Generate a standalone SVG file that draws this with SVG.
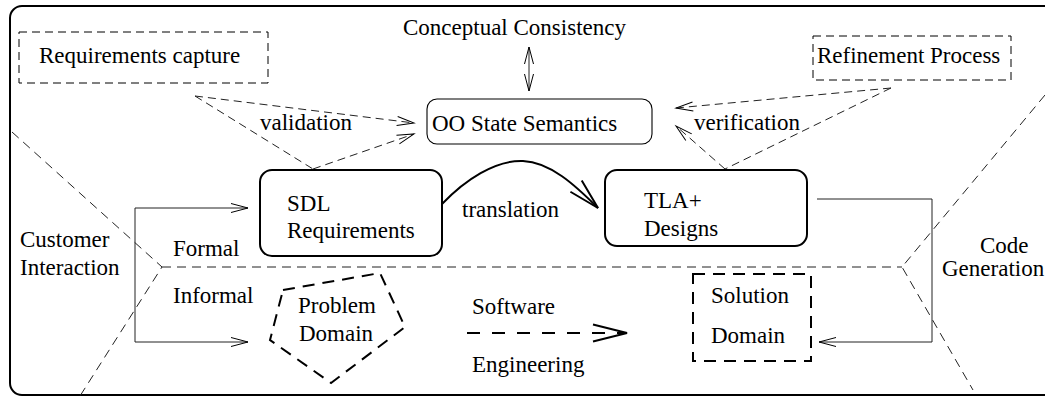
<svg xmlns="http://www.w3.org/2000/svg" width="1045" height="396" viewBox="0 0 1045 396">
  <style>
    text { font-family: "Liberation Serif", "Times New Roman", serif; font-size: 23px; fill: #000; }
    .frame { fill: none; stroke: #000; stroke-width: 2; }
    .box { fill: none; stroke: #000; stroke-width: 2; }
    .thinbox { fill: none; stroke: #000; stroke-width: 1.1; }
    .dashbox { fill: none; stroke: #000; stroke-width: 1; stroke-dasharray: 8 5; }
    .thickdash { fill: none; stroke: #000; stroke-width: 2; stroke-dasharray: 12 8; }
    .thin { fill: none; stroke: #222; stroke-width: 1; }
    .dashed { fill: none; stroke: #222; stroke-width: 1; stroke-dasharray: 8 5; }
    .bound { fill: none; stroke: #222; stroke-width: 1; stroke-dasharray: 9 6; }
    .solid2 { fill: none; stroke: #000; stroke-width: 2; }
    .swdash { fill: none; stroke: #000; stroke-width: 2; stroke-dasharray: 13 12; }
  </style>
  <defs>
    <marker id="open-sm" markerUnits="userSpaceOnUse" markerWidth="20" markerHeight="12" refX="17" refY="4.5" orient="auto-start-reverse" overflow="visible">
      <path d="M0,0 L17,4.5 L0,9" fill="none" stroke="#000" stroke-width="1" stroke-dasharray="none"/>
    </marker>
    <marker id="open-lg" markerUnits="userSpaceOnUse" markerWidth="34" markerHeight="18" refX="31" refY="8" orient="auto" overflow="visible">
      <path d="M0,0 L31,8 L0,16" fill="none" stroke="#000" stroke-width="2" stroke-dasharray="none"/>
    </marker>
    <marker id="open-sw" markerUnits="userSpaceOnUse" markerWidth="36" markerHeight="19" refX="34" refY="8.5" orient="auto" overflow="visible">
      <path d="M0,0 L34,8.5 L0,17" fill="none" stroke="#000" stroke-width="2" stroke-dasharray="none"/>
    </marker>
  </defs>

  <!-- outer frame, running off the right and bottom edges -->
  <rect class="frame" x="10" y="6" width="1060" height="389" rx="12"/>

  <!-- formal / informal and interaction boundaries -->
  <g id="boundaries">
    <polyline class="bound" points="12,132 162,267 80,396"/>
    <line class="bound" x1="162" y1="267" x2="902" y2="267"/>
    <polyline class="bound" points="1045,95 902,267 973,390"/>
  </g>

  <g id="connectors">
    <!-- validation -->
    <line class="dashed" x1="195" y1="96" x2="414" y2="123" marker-end="url(#open-sm)"/>
    <line class="dashed" x1="195" y1="96" x2="313" y2="169"/>
    <line class="dashed" x1="313" y1="169" x2="414" y2="134" marker-end="url(#open-sm)"/>
    <!-- verification -->
    <line class="dashed" x1="891" y1="88" x2="676" y2="108" marker-end="url(#open-sm)"/>
    <line class="dashed" x1="891" y1="88" x2="725" y2="169"/>
    <line class="dashed" x1="725" y1="169" x2="676" y2="126" marker-end="url(#open-sm)"/>
    <!-- conceptual consistency -->
    <line class="thin" x1="529" y1="47" x2="529" y2="91" marker-start="url(#open-sm)" marker-end="url(#open-sm)"/>
    <!-- translation -->
    <path class="solid2" d="M442,204 C465,180 495,160 523,161 C550,162 575,185 598,208" marker-end="url(#open-lg)"/>
    <!-- customer interaction -->
    <polyline class="thin" points="248,208 135,208 135,342 248,342" marker-start="url(#open-sm)" marker-end="url(#open-sm)"/>
    <!-- code generation -->
    <polyline class="thin" points="817,199 932,199 932,342 819,342" marker-end="url(#open-sm)"/>
    <!-- software engineering -->
    <line class="swdash" x1="467" y1="333" x2="627" y2="333" marker-end="url(#open-sw)"/>
  </g>

  <g id="conceptual-consistency">
    <text x="403" y="35">Conceptual Consistency</text>
  </g>

  <g id="requirements-capture">
    <rect class="dashbox" x="19" y="32" width="249" height="51"/>
    <text x="39" y="63">Requirements capture</text>
  </g>

  <g id="refinement-process">
    <rect class="dashbox" x="813" y="36" width="198" height="44"/>
    <text x="817" y="63">Refinement Process</text>
  </g>

  <g id="oo-state-semantics">
    <rect class="thinbox" x="427" y="99" width="225" height="45" rx="10"/>
    <text x="432" y="131">OO State Semantics</text>
  </g>

  <g id="sdl-requirements">
    <rect class="box" x="260" y="170" width="182" height="86" rx="12"/>
    <text x="287" y="211">SDL</text>
    <text x="287" y="238">Requirements</text>
  </g>

  <g id="tla-designs">
    <rect class="box" x="605" y="170" width="202" height="76" rx="12"/>
    <text x="644" y="208">TLA+</text>
    <text x="644" y="236">Designs</text>
  </g>

  <g id="problem-domain">
    <polygon class="thickdash" points="283,290 380,273 405,327 331,383 270,340"/>
    <text x="298" y="313">Problem</text>
    <text x="299" y="341">Domain</text>
  </g>

  <g id="solution-domain">
    <rect class="thickdash" x="693" y="274" width="118" height="87"/>
    <text x="711" y="303">Solution</text>
    <text x="711" y="343">Domain</text>
  </g>

  <g id="labels">
    <text x="260" y="130">validation</text>
    <text x="694" y="130">verification</text>
    <text x="462" y="217">translation</text>
    <text x="20" y="247">Customer</text>
    <text x="20" y="275">Interaction</text>
    <text x="173" y="256">Formal</text>
    <text x="173" y="303">Informal</text>
    <text x="472" y="314">Software</text>
    <text x="472" y="372">Engineering</text>
    <text x="980" y="253">Code</text>
    <text x="942" y="276">Generation</text>
  </g>
</svg>
